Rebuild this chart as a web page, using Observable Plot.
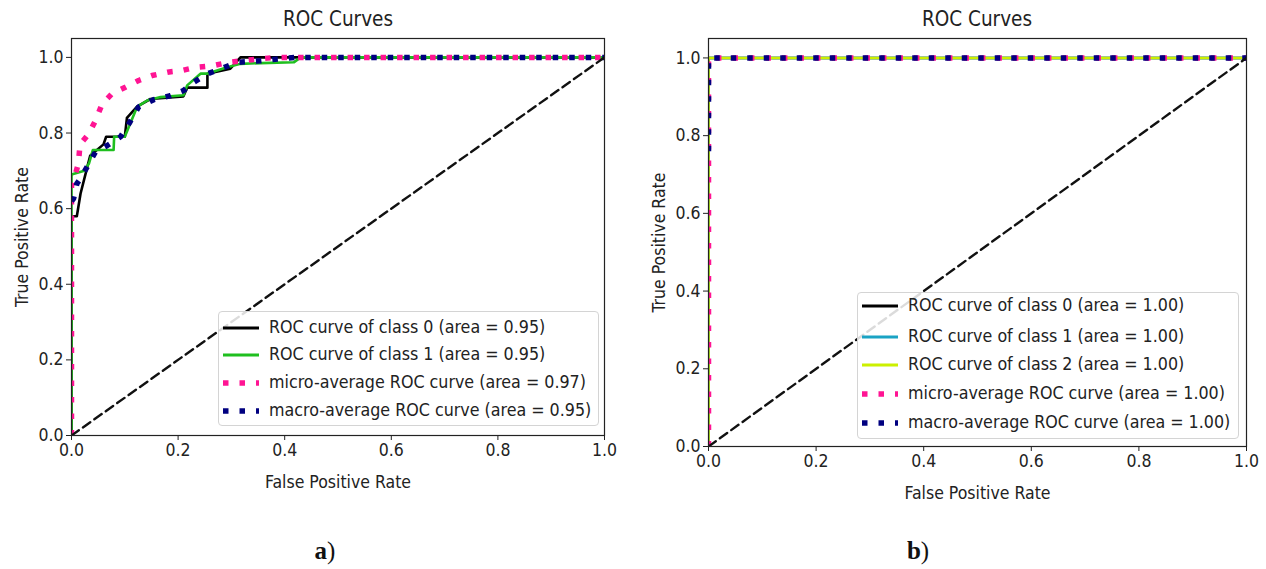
<!DOCTYPE html>
<html><head><meta charset="utf-8">
<script src="https://cdn.jsdelivr.net/npm/d3@7"></script>
<script src="https://cdn.jsdelivr.net/npm/@observablehq/plot@0.6"></script>
<style>
body{margin:0;background:#fff;}
#wrap{position:relative;width:1266px;height:569px;overflow:hidden;background:#fff;
  font-family:"DejaVu Sans Condensed","DejaVu Sans",sans-serif;color:#222;}
.plot{position:absolute;top:0;}
.title{position:absolute;font-size:20.5px;transform:translateX(-50%);white-space:nowrap;line-height:1;}
.legend{position:absolute;border:1px solid #d4d4d4;border-radius:4px;background:rgba(255,255,255,0.85);box-sizing:border-box;}
.row{position:absolute;left:0;display:flex;align-items:center;white-space:nowrap;font-size:17.7px;line-height:1;}
.row svg{margin-left:4px;margin-right:10px;}
.cap{position:absolute;font-family:"Liberation Serif","DejaVu Serif",serif;font-size:25px;transform:translateX(-50%);color:#111;line-height:1;}
</style></head>
<body><div id="wrap"></div>
<script>
// ---------- data ----------
const xTicks = [0, 0.2, 0.4, 0.6, 0.8, 1.0];
const yTicks = [0, 0.2, 0.4, 0.6, 0.8, 1.0];
const chanceFpr = [0, 1];
const chanceTpr = [0, 1];

// panel a)
const aClass0Fpr = [0, 0, 0.01, 0.017, 0.026, 0.035, 0.06, 0.065, 0.10, 0.104, 0.123, 0.148, 0.21, 0.217, 0.255, 0.255, 0.298, 0.317, 1];
const aClass0Tpr = [0, 0.58, 0.58, 0.64, 0.69, 0.74, 0.77, 0.79, 0.79, 0.84, 0.87, 0.89, 0.897, 0.92, 0.92, 0.957, 0.97, 1.0, 1.0];
const aClass1Fpr = [0, 0, 0.024, 0.033, 0.04, 0.079, 0.08, 0.10, 0.123, 0.142, 0.167, 0.21, 0.217, 0.242, 0.254, 0.292, 0.317, 0.355, 0.417, 0.43, 1];
const aClass1Tpr = [0, 0.69, 0.70, 0.72, 0.755, 0.755, 0.79, 0.79, 0.869, 0.886, 0.895, 0.90, 0.926, 0.957, 0.957, 0.974, 0.983, 0.985, 0.987, 1.0, 1.0];
const aMicroFpr = [0, 0, 0.005, 0.013, 0.016, 0.0325, 0.045, 0.0575, 0.076, 0.101, 0.126, 0.151, 0.18, 0.206, 0.234, 0.265, 0.296, 0.352, 0.383, 1];
const aMicroTpr = [0, 0.66, 0.68, 0.72, 0.77, 0.798, 0.833, 0.877, 0.904, 0.921, 0.939, 0.952, 0.961, 0.965, 0.974, 0.978, 0.987, 0.996, 1.0, 1.0];
const aMacroFpr = [0, 0.004, 0.01, 0.017, 0.029, 0.045, 0.067, 0.092, 0.11, 0.126, 0.154, 0.186, 0.21, 0.229, 0.254, 0.279, 0.31, 0.355, 0.418, 1];
const aMacroTpr = [0.62, 0.627, 0.666, 0.68, 0.71, 0.75, 0.767, 0.79, 0.83, 0.869, 0.888, 0.899, 0.912, 0.934, 0.956, 0.969, 0.987, 0.991, 1.0, 1.0];
const aLabels = ["ROC curve of class 0 (area = 0.95)", "ROC curve of class 1 (area = 0.95)",
  "micro-average ROC curve (area = 0.97)", "macro-average ROC curve (area = 0.95)"];

// panel b)
const bClassFpr = [0, 0, 1];
const bClassTpr = [0, 1, 1];
const bMicroFpr = [0, 0, 1];
const bMicroTpr = [0, 1, 1];
const bMacroFpr = [0, 0, 1];
const bMacroTpr = [0.76, 1, 1];
const bLabels = ["ROC curve of class 0 (area = 1.00)", "ROC curve of class 1 (area = 1.00)",
  "ROC curve of class 2 (area = 1.00)", "micro-average ROC curve (area = 1.00)", "macro-average ROC curve (area = 1.00)"];

// ---------- styles ----------
const FONT = '"DejaVu Sans Condensed","DejaVu Sans",sans-serif';
const solid = c => ({stroke: c, strokeWidth: 2.6, strokeLinejoin: "round", clip: true});
const dotted = c => ({stroke: c, strokeWidth: 5.5, strokeDasharray: "5.5 11", strokeLinecap: "butt", clip: true});
const dashed = {stroke: "#111", strokeWidth: 2.4, strokeDasharray: "9 5", clip: true};

const pts = (fx, ty) => fx.map((f, i) => ({fpr: f, tpr: ty[i]}));
const line = (fx, ty, st) => Plot.line(pts(fx, ty), {x: "fpr", y: "tpr", ...st});

function roc({width, height, ml, mr, mt, mb, curves}) {
  return Plot.plot({
    width, height, marginLeft: ml, marginRight: mr, marginTop: mt, marginBottom: mb,
    style: {fontFamily: FONT, fontSize: "17.5px", color: "#222", background: "transparent", overflow: "visible"},
    x: {domain: [0, 1], ticks: xTicks, tickFormat: d3.format(".1f"), tickSize: 5, tickPadding: 3,
        label: "False Positive Rate", labelAnchor: "center", labelArrow: "none", labelOffset: 52},
    y: {domain: [0, 1.05], ticks: yTicks, tickFormat: d3.format(".1f"), tickSize: 5, tickPadding: 3,
        label: "True Positive Rate", labelAnchor: "center", labelArrow: "none", labelOffset: 56},
    marks: [
      ...curves,
      line(chanceFpr, chanceTpr, dashed),
      Plot.frame({stroke: "#222", strokeWidth: 1.2})
    ]
  });
}

const wrap = document.getElementById("wrap");
function place(node, left) { node.classList.add("plot"); node.style.left = left + "px"; wrap.appendChild(node); }
function addDiv(cls, html, css) { const d = document.createElement("div"); d.className = cls; d.innerHTML = html; Object.assign(d.style, css); wrap.appendChild(d); return d; }
function legend(box, items, rowTops) {
  const lg = addDiv("legend", "", box);
  items.forEach((it, i) => {
    const sw = it.dot
      ? `<svg width="36" height="8"><line x1="0" y1="4" x2="36" y2="4" stroke="${it.c}" stroke-width="5.5" stroke-dasharray="5.5 11"/></svg>`
      : `<svg width="36" height="8"><line x1="0" y1="4" x2="36" y2="4" stroke="${it.c}" stroke-width="2.8"/></svg>`;
    const r = document.createElement("div");
    r.className = "row"; r.style.top = rowTops[i] + "px";
    r.innerHTML = sw + `<span>${it.t}</span>`;
    lg.appendChild(r);
  });
}

// panel a
place(roc({width: 624, height: 495, ml: 71, mr: 20, mt: 38, mb: 60, curves: [
  line(aClass0Fpr, aClass0Tpr, solid("#000")),
  line(aClass1Fpr, aClass1Tpr, solid("#1fbf1f")),
  line(aMicroFpr, aMicroTpr, dotted("#ff1493")),
  line(aMacroFpr, aMacroTpr, dotted("#000080"))
]}), 0);

// panel b
place(roc({width: 620, height: 506, ml: 68, mr: 14, mt: 38, mb: 60, curves: [
  line(bClassFpr, bClassTpr, solid("#000")),
  line(bClassFpr, bClassTpr, solid("#1aa3c4")),
  line(bClassFpr, bClassTpr, solid("#ccf000")),
  line(bMicroFpr, bMicroTpr, dotted("#ff1493")),
  line(bMacroFpr, bMacroTpr, dotted("#000080"))
]}), 640);

addDiv("title", "ROC Curves", {left: "338px", top: "9px"});
addDiv("title", "ROC Curves", {left: "977px", top: "9px"});

legend({left: "218px", top: "311px", width: "381px", height: "115px"},
  [{c: "#000", t: aLabels[0]}, {c: "#1fbf1f", t: aLabels[1]}, {c: "#ff1493", t: aLabels[2], dot: true}, {c: "#000080", t: aLabels[3], dot: true}],
  [7, 34, 62, 90]);
legend({left: "857px", top: "292px", width: "382px", height: "147px"},
  [{c: "#000", t: bLabels[0]}, {c: "#1aa3c4", t: bLabels[1]}, {c: "#ccf000", t: bLabels[2]}, {c: "#ff1493", t: bLabels[3], dot: true}, {c: "#000080", t: bLabels[4], dot: true}],
  [4, 35, 63, 92, 121]);

addDiv("cap", "<b>a</b>)", {left: "325px", top: "538px"});
addDiv("cap", "<b>b</b>)", {left: "918px", top: "538px"});
</script>
</body></html>
